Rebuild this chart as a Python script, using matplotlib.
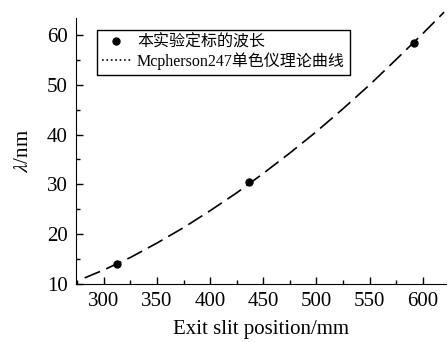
import numpy as np
import matplotlib.pyplot as plt
from matplotlib.lines import Line2D
from matplotlib.ticker import MultipleLocator

# measured calibration points
pos = [312, 437, 592]
wl = [14.0, 30.4, 58.5]

# theoretical curve
curve_x = [282, 300, 325, 350, 375, 400, 425, 450, 475, 500, 525, 550, 575, 600, 620]
curve_y = [11.2, 12.8, 15.3, 18.2, 21.3, 24.7, 28.3, 32.2, 36.3, 40.6, 45.2, 50.0, 55.1, 60.3, 64.6]

plt.rcParams['font.family'] = ['Liberation Serif', 'Noto Sans CJK SC']
plt.rcParams['mathtext.fontset'] = 'stix'

fig = plt.figure(figsize=(4.48, 3.42), dpi=100)
ax = fig.add_axes([0.170, 0.170, 0.826, 0.777])

ax.plot(curve_x, curve_y, color='black', lw=1.2, dashes=(10, 4), clip_on=False)
ax.plot(pos, wl, 'o', color='black', ms=5)

ax.set_xlim(274, 622)
ax.set_ylim(10, 63.4)
ax.xaxis.set_major_locator(MultipleLocator(50))
ax.xaxis.set_minor_locator(MultipleLocator(25))
ax.yaxis.set_major_locator(MultipleLocator(10))
ax.yaxis.set_minor_locator(MultipleLocator(5))
ax.tick_params(which='both', direction='in', labelsize=15, width=1)
ax.tick_params(which='major', length=5, pad=6)
ax.tick_params(which='minor', length=3)
ax.spines['top'].set_visible(False)
ax.spines['right'].set_visible(False)

ax.set_xlabel('Exit slit position/mm', fontsize=15, labelpad=6)
ax.set_ylabel(r'$\lambda$/nm', fontsize=15, labelpad=10)

handles = [Line2D([], [], ls='none', marker='o', color='black', ms=5),
           Line2D([], [], ls=':', color='black', lw=1.2)]
leg = ax.legend(handles, ['本实验定标的波长', 'Mcpherson247单色仪理论曲线'],
                loc='upper left', bbox_to_anchor=(97 / 448, 1 - 30 / 342),
                bbox_transform=fig.transFigure, fontsize=11.5,
                fancybox=False, framealpha=1, edgecolor='black',
                handlelength=1.8, handletextpad=0.4, borderpad=0.3,
                labelspacing=0.1, borderaxespad=0)
leg.get_frame().set_linewidth(1)

fig.savefig('out.png', dpi=100)
